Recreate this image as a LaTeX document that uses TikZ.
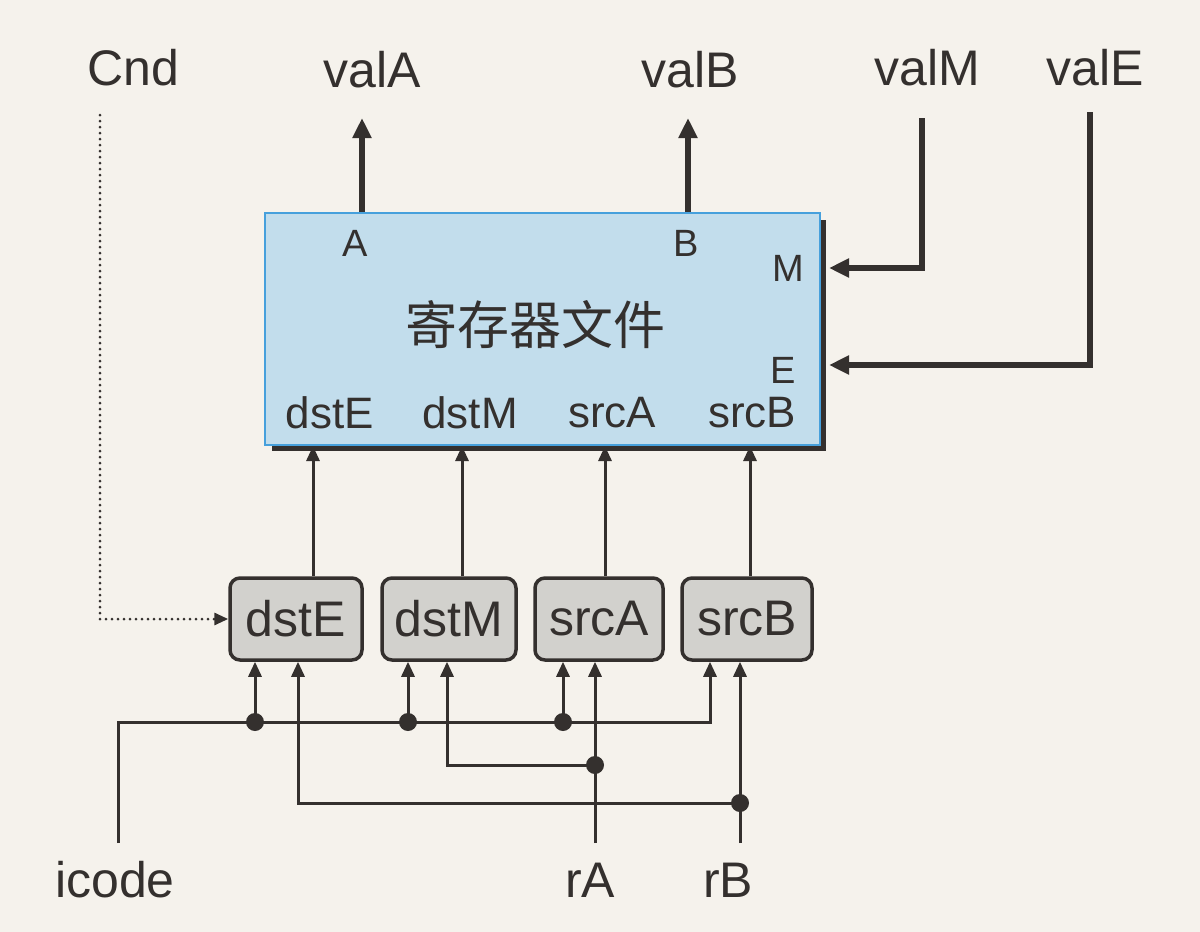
\documentclass[tikz,border=0pt]{standalone}
\usepackage{fontspec}
\setmainfont{Liberation Sans}
\newfontfamily\cjk{Noto Sans CJK SC}
\usetikzlibrary{arrows.meta,calc}
\definecolor{paper}{RGB}{245,242,236}
\definecolor{ink}{RGB}{52,48,46}
\definecolor{rffill}{RGB}{194,221,236}
\definecolor{rfline}{RGB}{70,160,220}
\definecolor{boxfill}{RGB}{210,209,205}
\begin{document}
\begin{tikzpicture}[x=1pt,y=-1pt,
  lbl/.style={font=\fontsize{50}{50}\selectfont, text=ink, inner sep=0pt},
  inl/.style={font=\fontsize{44}{44}\selectfont, text=ink, inner sep=0pt},
  port/.style={font=\fontsize{38}{38}\selectfont, text=ink, inner sep=0pt},
  rfbox/.style={draw=rfline, fill=rffill, line width=2pt, minimum width=555pt, minimum height=232pt, inner sep=0pt},
  selbox/.style={draw=ink, fill=boxfill, line width=3.5pt, rounded corners=10pt, minimum height=82pt, inner sep=0pt, font=\fontsize{50}{50}\selectfont, text=ink},
  bus/.style={draw=ink, line width=5.5pt, -{Triangle[length=20pt,width=18pt]}},
  sig/.style={draw=ink, line width=3pt, -{Triangle[length=15pt,width=13pt]}},
  ctl/.style={draw=ink, line width=3pt, line cap=round, dash pattern=on 0pt off 6pt, -{Triangle[length=14pt,width=12pt]}},
  dot/.style={circle, fill=ink, minimum size=18pt, inner sep=0pt}
]
\fill[paper] (0,0) rectangle (1200,932);
\useasboundingbox (0,0) rectangle (1200,932);

% register file with shadow
\fill[ink] (272,220) rectangle (826,451);
\node[rfbox] (rf) at (542.5,329) {};
\node[port] (pA) at (355,243) {A};
\node[port] (pB) at (686,243) {B};
\node[port] (pM) at (788,268) {M};
\node[port] (pE) at (783,370) {E};
\node[font=\cjk\fontsize{52}{52}\selectfont, text=ink, inner sep=0pt] (title) at (535,325) {寄存器文件};
\node[inl] (idstE) at (330,413) {dstE};
\node[inl] (idstM) at (470,413) {dstM};
\node[inl] (isrcA) at (612,413) {srcA};
\node[inl] (isrcB) at (752,413) {srcB};

% top labels
\node[lbl] (Cnd) at (133,68) {Cnd};
\node[lbl] (valA) at (372,70) {valA};
\node[lbl] (valB) at (690,70) {valB};
\node[lbl] (valM) at (927,68) {valM};
\node[lbl] (valE) at (1095,68) {valE};

% bottom labels
\node[lbl] (icode) at (115,880) {icode};
\node[lbl] (rA) at (590,880) {rA};
\node[lbl] (rB) at (728,880) {rB};

% selector boxes
\node[selbox, minimum width=132pt] (dstE) at (296,619) {dstE};
\node[selbox, minimum width=134pt] (dstM) at (449,619) {dstM};
\node[selbox, minimum width=128pt] (srcA) at (599,619) {srcA};
\node[selbox, minimum width=130pt] (srcB) at (747,619) {srcB};

% outputs valA / valB
\coordinate (aTop) at (362,118);
\coordinate (bTop) at (688,118);
\draw[bus] (aTop |- rf.north) -- (aTop);
\draw[bus] (bTop |- rf.north) -- (bTop);

% inputs valM / valE
\coordinate (mTop) at (922,118);
\coordinate (eTop) at (1090,112);
\coordinate (rfR) at (829,0);
\draw[bus] (mTop) |- (rfR |- pM);
\draw[bus] (eTop) -- (1090,365) -- (829,365);

% Cnd dotted control
\coordinate (cTop) at (100,115);
\draw[ctl] (cTop) |- (dstE.west);

% selector outputs to register file
\draw[sig] ([xshift=17pt]dstE.north) -- ([xshift=17pt]dstE.north |- rf.south);
\draw[sig] ([xshift=13pt]dstM.north) -- ([xshift=13pt]dstM.north |- rf.south);
\draw[sig] ([xshift=6pt]srcA.north) -- ([xshift=6pt]srcA.north |- rf.south);
\draw[sig] ([xshift=3pt]srcB.north) -- ([xshift=3pt]srcB.north |- rf.south);

% icode distribution
\coordinate (icTop) at (118,843);
\node[dot] (d1) at (255,722) {};
\node[dot] (d2) at (408,722) {};
\node[dot] (d3) at (563,722) {};
\coordinate (icEnd) at (710,722);
\draw[sig] (icTop) -- (118,722) -- (icEnd) -- (icEnd |- srcB.south);
\draw[sig] (d1.center) -- (d1 |- dstE.south);
\draw[sig] (d2.center) -- (d2 |- dstM.south);
\draw[sig] (d3.center) -- (d3 |- srcA.south);

% rA distribution
\coordinate (rATop) at (595,843);
\node[dot] (dA) at (595,765) {};
\draw[sig] (rATop) -- (rATop |- srcA.south);
\draw[sig] (dA.center) -| ([xshift=-2pt]dstM.south);

% rB distribution
\coordinate (rBTop) at (740,843);
\node[dot] (dB) at (740,803) {};
\draw[sig] (rBTop) -- (rBTop |- srcB.south);
\draw[sig] (dB.center) -| ([xshift=2pt]dstE.south);
\end{tikzpicture}
\end{document}
